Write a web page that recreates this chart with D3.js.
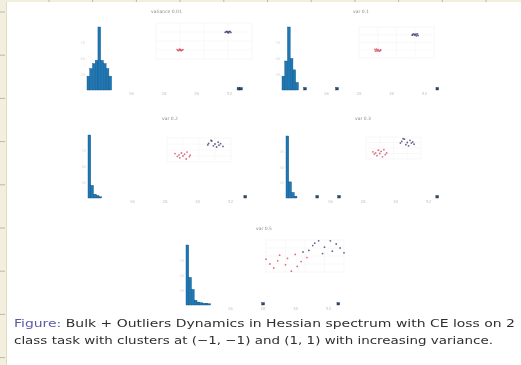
<!DOCTYPE html>
<html>
<head>
<meta charset="utf-8">
<script src="https://cdn.jsdelivr.net/npm/d3@7"></script>
<style>
  html, body { margin: 0; padding: 0; background: #fff; }
  svg { display: block; }
</style>
</head>
<body>
<div id="chart"></div>
<script>
// ---- data ----
var panelTitles = ["variance 0.01", "var 0.1", "var 0.2", "var 0.3", "var 0.5"];
// histogram bin counts of the bulk (relative, spike = 100), bin width = 1 unit
var bulkCounts = [
  [22, 34, 42, 47, 100, 47, 42, 34, 22],
  [22, 46, 100, 50, 32, 12],
  [100, 20, 6, 4, 2],
  [100, 26, 9, 3],
  [100, 46, 26, 8, 5, 4, 3, 3, 2]
];
// outlier eigenvalues (same units as the bins)
var outlierEigs = [
  [55.4, 56.3],
  [8.4, 20.1, 56.8],
  [57.5],
  [11.4, 19.4, 55.3],
  [28.2, 55.7]
];
var outlierCount = 4;
var xTicks = [16, 28, 40, 52];
// scatter points, cluster at (-1,-1) in red and (1,1) in blue
var redPoints = [
  [[-1.12,-0.95],[-1.05,-1.04],[-0.98,-0.97],[-0.92,-1.02],[-1.02,-0.9],[-0.95,-1.08],[-1.08,-1.06],[-0.88,-0.96],[-1.0,-1.0]],
  [[-1.15,-0.9],[-1.04,-1.08],[-0.96,-0.95],[-0.86,-1.04],[-1.06,-0.86],[-0.92,-1.12],[-1.12,-1.1],[-0.84,-0.94],[-1.0,-1.02]],
  [[-1.5,-0.6],[-1.2,-1.3],[-0.9,-0.7],[-0.6,-1.1],[-1.1,-0.5],[-0.8,-1.5],[-1.35,-1.05],[-0.55,-0.85],[-1.0,-1.0],[-0.75,-0.35],[-1.25,-0.8]],
  [[-1.5,-0.7],[-1.2,-1.4],[-0.9,-0.6],[-0.6,-1.2],[-1.1,-0.4],[-0.8,-1.6],[-1.4,-1.1],[-0.5,-0.9],[-1.0,-1.0],[-0.7,-0.3],[-1.3,-0.9]],
  [[-2.0,-0.4],[-1.6,-1.5],[-0.9,-0.3],[-0.4,-1.3],[-1.3,0.1],[-0.7,-1.9],[-1.8,-1.0],[-0.2,-0.7],[-1.0,-1.1],[-0.5,0.2],[-1.4,-0.6],[0.1,-0.2]]
];
var bluePoints = [
  [[1.12,0.95],[1.05,1.04],[0.98,0.97],[0.92,1.02],[1.02,0.9],[0.95,1.08],[1.08,1.06],[0.88,0.96],[1.0,1.0]],
  [[1.15,0.9],[1.04,1.08],[0.96,0.95],[0.86,1.04],[1.06,0.86],[0.92,1.12],[1.12,1.1],[0.84,0.94],[1.0,1.02]],
  [[1.5,0.6],[1.2,1.3],[0.9,0.7],[0.6,1.1],[1.1,0.5],[0.8,1.5],[1.35,1.05],[0.55,0.85],[1.0,1.0],[0.75,1.6],[1.25,0.8]],
  [[1.5,0.7],[1.2,1.4],[0.9,0.6],[0.6,1.2],[1.1,0.4],[0.8,1.6],[1.4,1.1],[0.5,0.9],[1.0,1.0],[0.7,1.7],[1.3,0.9]],
  [[2.0,0.4],[1.6,1.5],[0.9,0.3],[0.4,1.3],[1.3,1.9],[0.7,1.9],[1.8,1.0],[0.2,0.7],[1.0,1.1],[0.5,1.6],[1.4,0.6],[-0.1,0.5]]
];
var captionLines = [
  ["Figure:", " Bulk + Outliers Dynamics in Hessian spectrum with CE loss on 2"],
  ["", "class task with clusters at (\u22121, \u22121) and (1, 1) with increasing variance."]
];

// ---- layout (pixels) ----
var W = 521, H = 365;
var panels = [
  {hx: 87,  hTop: 27,  hBot: 90,  sx: [156, 252], sy: [59, 23],   tx: 151, ty: 13},
  {hx: 282, hTop: 27,  hBot: 90,  sx: [359, 434], sy: [58, 27],   tx: 353, ty: 13},
  {hx: 88,  hTop: 135, hBot: 198, sx: [167, 231], sy: [162, 138], tx: 162, ty: 120},
  {hx: 286, hTop: 136, hBot: 198, sx: [366, 421], sy: [159, 137], tx: 355, ty: 120},
  {hx: 186, hTop: 245, hBot: 305, sx: [266, 344], sy: [272, 240], tx: 256, ty: 230}
];
var histW = 164, binUnits = 60;

var svg = d3.select("#chart").append("svg")
  .attr("width", W).attr("height", H)
  .style("filter", "blur(0.5px)");

// page frame strips
svg.append("rect").attr("x", 0).attr("y", 0).attr("width", W).attr("height", 2).attr("fill", "#f3efdf");
svg.append("rect").attr("x", 0).attr("y", 0).attr("width", 6).attr("height", H).attr("fill", "#f3efdf");
svg.append("line").attr("x1", 6.5).attr("x2", 6.5).attr("y1", 2).attr("y2", H).attr("stroke", "#e2dcc6");
svg.selectAll(".ltick").data(d3.range(12, H, 43.2)).enter().append("line")
  .attr("x1", 0).attr("x2", 5).attr("y1", function(d){return d;}).attr("y2", function(d){return d;})
  .attr("stroke", "#bdb6a0");
svg.selectAll(".ttick").data(d3.range(49, W, 43.7)).enter().append("line")
  .attr("x1", function(d){return d;}).attr("x2", function(d){return d;}).attr("y1", 0).attr("y2", 2)
  .attr("stroke", "#bdb6a0");

panels.forEach(function(p, i) {
  var g = svg.append("g");
  var x = d3.scaleLinear().domain([0, binUnits]).range([p.hx, p.hx + histW]);
  var y = d3.scaleLinear().domain([0, 100]).range([p.hBot, p.hTop]);

  // scatter inset
  var sx = d3.scaleLinear().domain([-2, 2]).range(p.sx);
  var sy = d3.scaleLinear().domain([-2, 2]).range(p.sy);
  var sg = g.append("g");
  sg.append("rect").attr("x", p.sx[0]).attr("y", p.sy[1])
    .attr("width", p.sx[1] - p.sx[0]).attr("height", p.sy[0] - p.sy[1])
    .attr("fill", "none").attr("stroke", "#f0f0f0").attr("stroke-width", 0.6);
  sg.selectAll(".gx").data([-1, 0, 1]).enter().append("line")
    .attr("x1", sx).attr("x2", sx).attr("y1", p.sy[0]).attr("y2", p.sy[1])
    .attr("stroke", "#f2f2f2").attr("stroke-width", 0.5);
  sg.selectAll(".gy").data([-1, 0, 1]).enter().append("line")
    .attr("y1", sy).attr("y2", sy).attr("x1", p.sx[0]).attr("x2", p.sx[1])
    .attr("stroke", "#f2f2f2").attr("stroke-width", 0.5);
  sg.selectAll(".red").data(redPoints[i]).enter().append("circle")
    .attr("cx", function(d){return sx(d[0]);}).attr("cy", function(d){return sy(d[1]);})
    .attr("r", 0.9).attr("fill", "#d9475f").attr("fill-opacity", 0.8);
  sg.selectAll(".blue").data(bluePoints[i]).enter().append("circle")
    .attr("cx", function(d){return sx(d[0]);}).attr("cy", function(d){return sy(d[1]);})
    .attr("r", 0.9).attr("fill", "#3c3f6e").attr("fill-opacity", 0.8);

  // title
  g.append("text").attr("x", p.tx).attr("y", p.ty)
    .attr("font-family", "DejaVu Sans").attr("font-size", 4.5).attr("fill", "#8a8a8a")
    .text(panelTitles[i]);

  // histogram axis labels (faint)
  var ax = g.append("g").attr("transform", "translate(0," + (p.hBot + 1) + ")")
    .call(d3.axisBottom(x).tickValues(xTicks).tickSize(0).tickPadding(1));
  ax.select(".domain").remove();
  ax.selectAll("text").attr("font-size", 4).attr("fill", "#c4c4c4").attr("font-family", "DejaVu Sans");
  var ay = g.append("g").attr("transform", "translate(" + (p.hx - 1) + ",0)")
    .call(d3.axisLeft(y).tickValues([25, 50, 75]).tickSize(0).tickPadding(1));
  ay.select(".domain").remove();
  ay.selectAll("text").attr("font-size", 3.5).attr("fill", "#d0d0d0").attr("font-family", "DejaVu Sans");

  // bulk bars
  g.selectAll(".bin").data(bulkCounts[i]).enter().append("rect")
    .attr("x", function(d, k){return x(k);})
    .attr("width", x(1) - x(0))
    .attr("y", function(d){return y(d);})
    .attr("height", function(d){return p.hBot - y(d);})
    .attr("fill", "#1f78b6").attr("stroke", "#12507e").attr("stroke-width", 0.4);

  // outlier bars
  g.selectAll(".out").data(outlierEigs[i]).enter().append("rect")
    .attr("x", function(d){return x(d) - 1.3;})
    .attr("width", x(1) - x(0))
    .attr("y", y(outlierCount))
    .attr("height", p.hBot - y(outlierCount))
    .attr("fill", "#2b4a6e").attr("stroke", "#1c3048").attr("stroke-width", 0.4);
});

// caption
var cap = svg.append("g").attr("font-family", "DejaVu Sans").attr("font-size", 11);
var capY = [327, 344], capLen = [501, 479];
captionLines.forEach(function(line, i) {
  var t = cap.append("text").attr("x", 14).attr("y", capY[i])
    .attr("textLength", capLen[i]).attr("lengthAdjust", "spacingAndGlyphs");
  if (line[0]) t.append("tspan").attr("fill", "#5b5ba6").text(line[0]);
  t.append("tspan").attr("fill", "#2f2f2f").text(line[1]);
});
</script>
</body>
</html>
